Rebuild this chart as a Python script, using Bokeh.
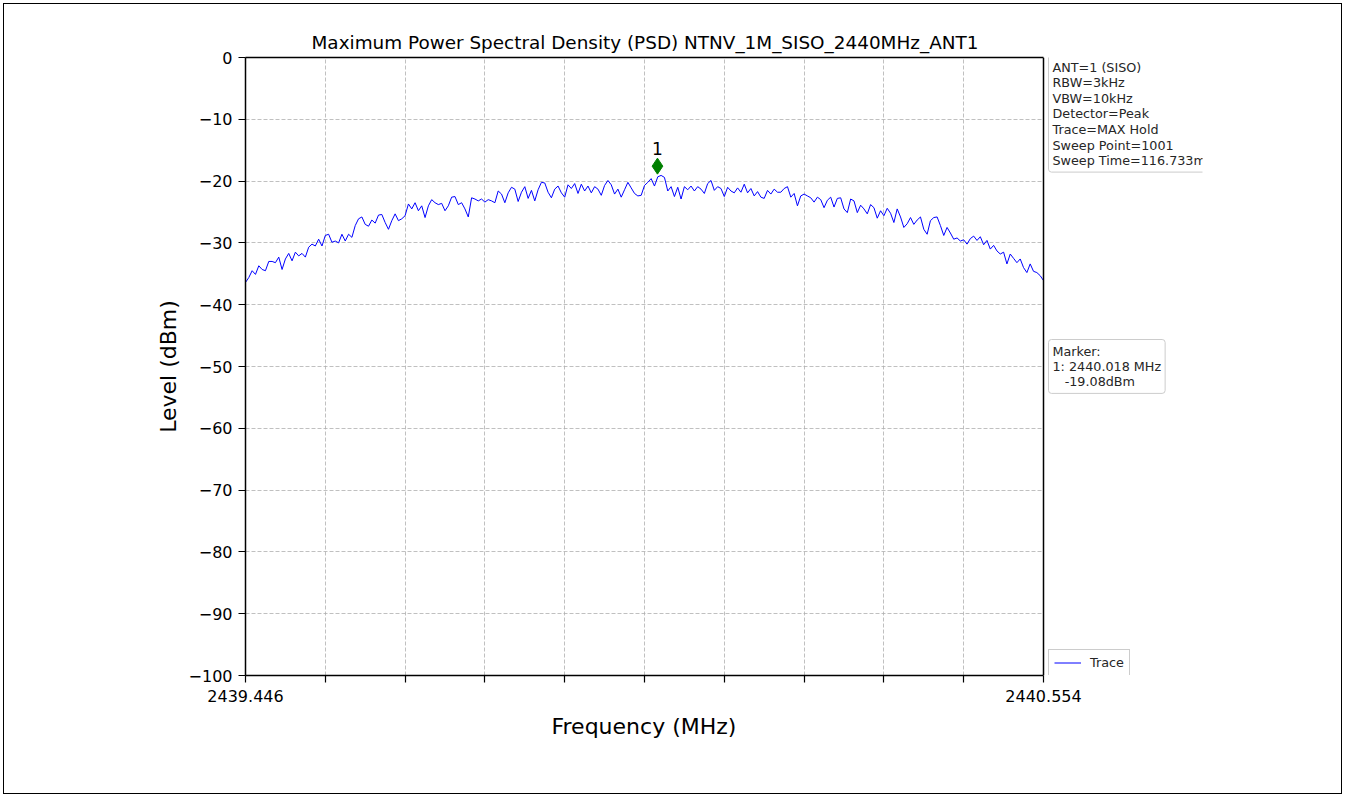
import numpy as np
from bokeh.plotting import figure
from bokeh.models import (Range1d, FixedTicker, Label, Legend, LegendItem,
                          LinearAxis, Span, BoxAnnotation, Title)
from bokeh.embed import file_html
from bokeh.resources import INLINE

TITLE = "Maximum Power Spectral Density (PSD) NTNV_1M_SISO_2440MHz_ANT1"
X_LABEL = "Frequency (MHz)"
Y_LABEL = "Level (dBm)"
F_START = 2439.446
F_STOP = 2440.554
X_TICK_LABELS = ["2439.446", "2440.554"]
Y_TICKS = [0, -10, -20, -30, -40, -50, -60, -70, -80, -90, -100]

# trace levels (dBm), read left to right across the span
level_left = [
    -36.4, -35.6, -34.5, -35.1, -33.7, -34.3, -34.5, -33.0, -33.0, -33.2,
    -32.3, -34.3, -32.6, -31.7, -32.9, -31.5, -32.1, -31.7, -32.3, -30.7,
    -30.2, -30.5, -29.4, -30.5, -28.8, -28.6, -29.9, -29.7, -30.0, -28.6,
    -29.7, -28.6, -29.1, -27.2, -26.1, -25.8, -27.0, -27.3, -26.3, -26.8,
    -25.5, -25.4, -26.7, -27.8, -26.4, -25.3, -26.4, -26.1, -25.6, -23.7,
    -24.5, -23.5, -24.8, -24.0, -25.9, -24.0, -23.0, -23.5, -23.8, -23.6,
    -24.8, -24.0, -22.6, -22.5, -23.8, -23.5, -24.5, -25.8, -22.7, -22.9,
    -23.2, -22.9, -23.4, -23.0, -23.2, -23.5, -21.6, -22.1, -23.5, -21.9,
    -21.0,
]
level_mid = [
    -21.3, -23.3, -21.8, -20.9, -22.8, -21.5, -23.2, -21.4, -20.2, -20.3,
    -21.8, -22.7, -21.3, -20.8, -21.9, -22.6, -20.6, -21.2, -20.4, -22.0,
    -20.5, -21.6, -20.8, -21.9, -20.9, -21.3, -22.3, -20.7, -19.9, -20.6,
    -22.1, -21.3, -22.6, -21.4, -20.2, -21.1, -22.0, -22.4, -22.3, -20.7,
    -20.2, -19.6, -20.8, -19.3, -19.08, -19.4, -21.6, -20.9, -22.5, -21.0,
    -22.9, -20.9, -21.4, -20.8, -21.6, -20.9, -21.3, -22.0, -20.4, -19.9,
    -21.5, -20.9, -21.2, -22.5, -21.0, -21.6, -21.9, -21.1, -21.8, -20.5,
    -21.9, -21.2, -22.4, -21.7, -22.6, -22.8, -21.5, -22.1, -21.3, -21.8,
]
level_right = [
    -21.8, -21.2, -20.9, -22.6, -22.0, -24.0, -22.4, -22.1, -22.4, -22.7,
    -23.4, -22.6, -23.0, -24.3, -23.1, -22.6, -24.2, -22.8, -22.7, -24.5,
    -25.1, -22.9, -23.2, -25.1, -23.9, -24.5, -25.3, -23.8, -24.3, -26.0,
    -24.8, -25.6, -24.4, -25.2, -26.7, -24.5, -25.8, -27.5, -26.9, -25.9,
    -27.0, -26.3, -25.8, -27.8, -28.6, -26.4, -25.9, -25.8, -27.2, -28.8,
    -27.5, -28.4, -29.4, -29.2, -29.7, -29.5, -30.2, -29.3, -28.9, -29.6,
    -29.0, -30.3, -29.6, -31.0, -30.4, -31.3, -31.8, -31.5, -33.4, -31.8,
    -32.5, -33.2, -32.6, -34.0, -34.8, -33.4, -34.6, -34.8, -35.3, -36.1,
]
levels = level_left + level_mid + level_right
freqs = np.linspace(F_START, F_STOP, len(levels))

MARKER_FREQ = 2440.018
MARKER_LEVEL = -19.08

INFO_LINES = ["ANT=1 (SISO)", "RBW=3kHz", "VBW=10kHz", "Detector=Peak",
              "Trace=MAX Hold", "Sweep Point=1001", "Sweep Time=116.733ms"]
MARKER_LINES = ["Marker:", "1: 2440.018 MHz", "\u00a0\u00a0\u00a0-19.08dBm"]

FONT = "DejaVu Sans"
BOX_FONT_SIZE = "12.75px"

# layout (pixels)
AX_LEFT, AX_RIGHT, AX_TOP, AX_BOTTOM = 245, 1043, 57, 675
CLIP_RIGHT = 1202
ORIGIN = 4
FIG_W, FIG_H = 1339, 791
x_end = F_STOP + (CLIP_RIGHT - AX_RIGHT) / (AX_RIGHT - AX_LEFT) * (F_STOP - F_START)
frame_w = CLIP_RIGHT - AX_LEFT
frame_h = AX_BOTTOM - AX_TOP

p = figure(width=FIG_W, height=FIG_H, output_backend="svg", toolbar_location=None,
           x_range=Range1d(F_START, x_end), y_range=Range1d(-100, 0),
           min_border_left=AX_LEFT - ORIGIN,
           min_border_right=FIG_W - (AX_LEFT - ORIGIN) - frame_w,
           min_border_top=AX_TOP - ORIGIN,
           min_border_bottom=FIG_H - (AX_TOP - ORIGIN) - frame_h)
p.styles = {"border": "1px solid black", "margin": "3px 0 0 3px"}

p.title.text = TITLE
p.title.align = "left"
p.title.offset = 66
p.title.text_font = FONT
p.title.text_font_size = "18.4px"
p.title.text_font_style = "normal"
p.title.text_color = "black"
p.title.standoff = 9

p.outline_line_color = None
p.background_fill_color = "white"
p.border_fill_color = "white"

# axes
xt = list(np.linspace(F_START, F_STOP, 11))
p.xaxis.ticker = FixedTicker(ticks=xt)
overrides = {float(t): "" for t in xt}
overrides[float(xt[0])] = X_TICK_LABELS[0]
overrides[float(xt[-1])] = X_TICK_LABELS[1]
p.xaxis.major_label_overrides = overrides
p.xaxis.bounds = (F_START, F_STOP)
p.yaxis.ticker = FixedTicker(ticks=Y_TICKS)
p.yaxis.major_label_overrides = {t: (str(t).replace("-", "\u2212")) for t in Y_TICKS}

for ax in (p.xaxis[0], p.yaxis[0]):
    ax.axis_line_color = "black"
    ax.axis_line_width = 1.5
    ax.major_tick_line_color = "black"
    ax.major_tick_line_width = 1.2
    ax.major_tick_out = 7
    ax.major_tick_in = 0
    ax.minor_tick_line_color = None
    ax.major_label_text_font = FONT
    ax.major_label_text_font_size = "16px"
    ax.major_label_text_color = "black"
    ax.axis_label_text_font = FONT
    ax.axis_label_text_font_size = "22px"
    ax.axis_label_text_font_style = "normal"
    ax.axis_label_text_color = "black"

p.yaxis.axis_label = Y_LABEL
p.xaxis.major_label_standoff = 7
p.yaxis.major_label_standoff = 6
p.yaxis.axis_label_standoff = 5

# x-axis label, centred under the axes box (the frame also holds the side boxes)
xlabel = Title(text=X_LABEL, align="left", offset=306, text_font=FONT,
               text_font_size="22px", text_font_style="normal",
               text_color="black", standoff=15)
p.add_layout(xlabel, "below")

# top and right spines of the axes box
top_axis = LinearAxis(ticker=FixedTicker(ticks=[]), bounds=(F_START, F_STOP),
                      axis_line_color="black", axis_line_width=1.5,
                      major_tick_line_color=None, minor_tick_line_color=None,
                      major_label_text_color=None)
p.add_layout(top_axis, "above")
p.add_layout(Span(location=F_STOP, dimension="height", line_color="black",
                  line_width=1.5))

p.grid.grid_line_color = "#b0b0b0"
p.grid.grid_line_dash = "4 2"
p.grid.grid_line_width = 0.8
yg = p.ygrid[0]
if "cross_bounds" in yg.properties():
    yg.cross_bounds = (F_START, F_STOP)
    p.xgrid[0].bounds = (F_START, F_STOP)
else:
    p.add_layout(BoxAnnotation(left=F_STOP, fill_color="white", fill_alpha=1,
                               line_color=None, level="underlay"))

trace = p.line(freqs, levels, line_color="#0000ff", line_width=1)

# peak marker
p.scatter([MARKER_FREQ], [MARKER_LEVEL + 1.5], marker="diamond", size=16,
          fill_color="#008000", line_color="#008000")
p.add_layout(Label(x=MARKER_FREQ, y=MARKER_LEVEL, text="1", y_offset=27,
                   text_align="center", text_baseline="alphabetic",
                   text_font=FONT, text_font_size="17px",
                   text_color="black"))

# info boxes to the right of the axes box
bx = 1048 - AX_LEFT
info = Label(x=bx, y=AX_BOTTOM - 53, x_units="screen", y_units="screen",
             text="\n".join(INFO_LINES), anchor="top_left",
             text_font=FONT, text_font_size=BOX_FONT_SIZE,
             text_color="#262626", text_line_height=1.04,
             background_fill_color="white", border_line_color="#cccccc",
             border_radius=3, padding=(4, 4, 6, 4))
p.add_layout(info)
mk = Label(x=bx, y=AX_BOTTOM - 339, x_units="screen", y_units="screen",
           text="\n".join(MARKER_LINES), anchor="top_left",
           text_font=FONT, text_font_size=BOX_FONT_SIZE,
           text_color="#262626", text_line_height=1.03,
           background_fill_color="white", border_line_color="#cccccc",
           border_radius=3, padding=4)
p.add_layout(mk)

legend = Legend(items=[LegendItem(label="Trace", renderers=[trace])],
                location=(bx, -1), label_text_font=FONT,
                label_text_font_size=BOX_FONT_SIZE, label_text_color="#262626",
                border_line_color="#cccccc", border_line_alpha=1,
                glyph_width=27, glyph_height=15, label_height=15,
                padding=5, spacing=0, margin=0, label_standoff=9,
                background_fill_alpha=1)
p.add_layout(legend)

open("out.html", "w").write(file_html(p, INLINE))
